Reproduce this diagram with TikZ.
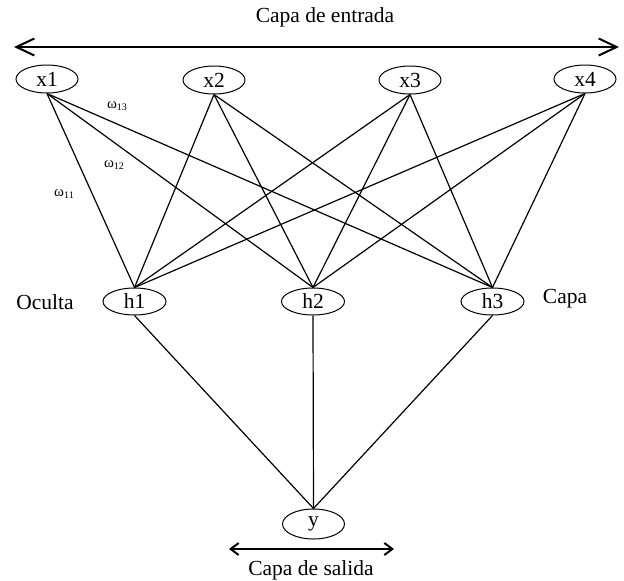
\documentclass[tikz,border=0pt]{standalone}
\usepackage{fontspec}
\setmainfont{Liberation Serif}
\usetikzlibrary{shapes.geometric,arrows.meta}
\begin{document}
\begin{tikzpicture}[x=1pt,y=-1pt,
  neuron/.style={draw,ellipse,line width=1pt,inner sep=0pt,minimum width=62pt,minimum height=28pt,font=\fontsize{21.5}{24}\selectfont},
  lbl/.style={inner sep=0pt,font=\fontsize{21.5}{24}\selectfont},
  wlbl/.style={inner sep=0pt,font=\fontsize{15}{17}\selectfont},
  link/.style={line width=1.2pt},
  bigarrow/.style={line width=2pt,{Straight Barb[length=18pt,width=17pt,line width=2pt]}-{Straight Barb[length=18pt,width=17pt,line width=2pt]}},
  smallarrow/.style={line width=2pt,{Straight Barb[length=8pt,width=12pt,line width=2pt]}-{Straight Barb[length=8pt,width=12pt,line width=2pt]}}
]
\useasboundingbox (0,0) rectangle (624,581);
\node[neuron] (x1) at (47,79) {x1};
\node[neuron] (x2) at (214,80) {x2};
\node[neuron] (x3) at (410,80) {x3};
\node[neuron] (x4) at (585,79) {x4};
\node[neuron,minimum width=63pt,minimum height=27pt] (h1) at (134.5,301.5) {h1};
\node[neuron,minimum width=63pt,minimum height=27pt] (h2) at (313,301.5) {h2};
\node[neuron,minimum width=63pt,minimum height=27pt] (h3) at (492.5,301.5) {h3};
\node[neuron,minimum height=30pt] (y) at (313.5,524) {y};

\foreach \i in {1,2,3,4}{
  \foreach \j in {1,2,3}{
    \draw[link] (x\i.south) -- (h\j.north);
  }
}
\foreach \j in {1,2,3}{
  \draw[link] (h\j.south) -- (y.north);
}

\node[lbl] (tin) at (325,17) {Capa de entrada};
\coordinate (al) at (14,47);
\coordinate (ar) at (619,47);
\draw[bigarrow] (al) -- (ar);

\node[lbl] (toc) at (45,302) {Oculta};
\node[lbl] (tca) at (565,299) {Capa};

\coordinate (bl) at (229,549);
\coordinate (br) at (394,549);
\draw[smallarrow] (bl) -- (br);
\node[lbl] (tout) at (311,570) {Capa de salida};

\node[wlbl] (w13) at (117,106) {ω\raisebox{-1.5pt}{\fontsize{10}{11}\selectfont 13}};
\node[wlbl] (w12) at (114,165) {ω\raisebox{-1.5pt}{\fontsize{10}{11}\selectfont 12}};
\node[wlbl] (w11) at (64,194) {ω\raisebox{-1.5pt}{\fontsize{10}{11}\selectfont 11}};
\end{tikzpicture}
\end{document}
